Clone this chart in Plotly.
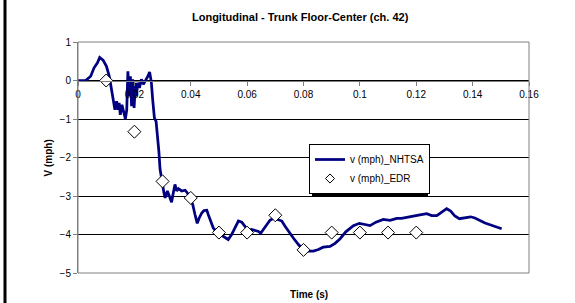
import plotly.graph_objects as go

# ---- data ----
t_nhtsa = [0, 0.0027, 0.0045, 0.0057, 0.0069, 0.0077, 0.0089, 0.0101, 0.0111, 0.0119,
           0.0125, 0.0131, 0.0137, 0.0142, 0.0146, 0.0150, 0.0156, 0.0162, 0.0168, 0.0173,
           0.0177, 0.0182, 0.0186, 0.0190, 0.0194, 0.0199, 0.0204, 0.0207, 0.0212, 0.0218,
           0.0225, 0.0232, 0.0239, 0.0248, 0.0254, 0.0260, 0.0265, 0.0271, 0.0277, 0.0283,
           0.0287, 0.0291, 0.0297, 0.0305, 0.0309, 0.0317, 0.0324, 0.0332, 0.0338, 0.0344,
           0.0350, 0.0356, 0.0368, 0.0380, 0.0388, 0.0397, 0.0407, 0.0415, 0.0423, 0.0430,
           0.0439, 0.0447, 0.0457, 0.0462, 0.0471, 0.0480, 0.0492, 0.0504, 0.0521, 0.0533,
           0.0545, 0.0557, 0.0569, 0.0581, 0.0592, 0.0604, 0.0616, 0.0628, 0.0640, 0.0648,
           0.0658, 0.0670, 0.0681, 0.0695, 0.0711, 0.0723, 0.0734, 0.0750, 0.0764, 0.0782,
           0.0799, 0.0817, 0.0835, 0.0853, 0.0870, 0.0894, 0.0912, 0.0930, 0.0950, 0.0977,
           0.0998, 0.1018, 0.1036, 0.1057, 0.1083, 0.1107, 0.1131, 0.1148, 0.1166, 0.1190,
           0.1213, 0.1237, 0.1255, 0.1273, 0.1290, 0.1308, 0.1322, 0.1337, 0.1353, 0.1373,
           0.1393, 0.1408, 0.1426, 0.1444, 0.1467, 0.1485, 0.1503]
v_nhtsa = [0, 0, 0.11, 0.33, 0.46, 0.60, 0.53, 0.37, 0.11, -0.23,
           -0.50, -0.76, -0.54, -0.76, -0.58, -0.89, -0.63, -0.80, -1.00, -0.76,
           0.24, -0.41, 0.11, -0.67, 0.03, -0.71, -0.06, -0.41, -0.06, -0.19,
           0.03, -0.10, -0.02, 0.11, 0.22, -0.03, -0.50, -0.97, -1.06, -1.45,
           -1.85, -2.30, -2.62, -2.92, -3.05, -2.87, -3.00, -3.16, -2.92, -2.70,
           -2.87, -2.81, -2.87, -2.85, -2.92, -3.05, -3.22, -3.48, -3.71, -3.57,
           -3.44, -3.38, -3.37, -3.48, -3.65, -3.83, -3.94, -4.00, -4.09, -4.13,
           -4.00, -3.83, -3.65, -3.68, -3.78, -3.90, -3.87, -3.90, -3.92, -3.97,
           -3.87, -3.74, -3.63, -3.57, -3.61, -3.65, -3.78, -3.96, -4.09, -4.26,
           -4.39, -4.43, -4.43, -4.39, -4.33, -4.31, -4.23, -4.11, -3.93, -3.77,
           -3.71, -3.74, -3.77, -3.68, -3.61, -3.63, -3.58, -3.58, -3.55, -3.51,
           -3.49, -3.46, -3.51, -3.51, -3.42, -3.33, -3.39, -3.52, -3.59, -3.57,
           -3.54, -3.57, -3.64, -3.70, -3.76, -3.80, -3.85]

t_edr = [0.01, 0.02, 0.03, 0.04, 0.05, 0.06, 0.07, 0.08, 0.09, 0.10, 0.11, 0.12]
v_edr = [0.0, -1.33, -2.62, -3.05, -3.95, -3.95, -3.50, -4.40, -3.95, -3.95, -3.95, -3.95]

x_ticks = [0, 0.02, 0.04, 0.06, 0.08, 0.1, 0.12, 0.14, 0.16]
x_tick_labels = ["0", "0.02", "0.04", "0.06", "0.08", "0.1", "0.12", "0.14", "0.16"]
y_ticks = [1, 0, -1, -2, -3, -4, -5]

FONT = "Arial, 'Liberation Sans', sans-serif"
NAVY = "#000080"
GRAY = "#808080"

fig = go.Figure()
fig.add_trace(go.Scatter(x=t_nhtsa, y=v_nhtsa, mode="lines", name="v (mph)_NHTSA",
                         line=dict(color=NAVY, width=2.75)))
fig.add_trace(go.Scatter(x=t_edr, y=v_edr, mode="markers", name="v (mph)_EDR",
                         showlegend=False,
                         marker=dict(symbol="diamond", size=10, color="white",
                                     line=dict(color="black", width=1))))
# legend-only entry with the smaller legend glyph
fig.add_trace(go.Scatter(x=[None], y=[None], mode="markers", name="v (mph)_EDR",
                         marker=dict(symbol="diamond", size=7, color="white",
                                     line=dict(color="black", width=1))))

y_min, y_max = -5, 1
zero_pos = (0 - y_min) / (y_max - y_min)

L, T = 78, 42          # plot area origin (px)
PW, PH = 451, 231      # plot area size (px)
leg_x0, leg_y0 = 309, 144
leg_w, leg_h = 116, 49  # approximate rendered legend size (px)


def px_x(x):
    return (x - L) / PW


def px_y(y):
    return (T + PH - y) / PH


fig.update_layout(
    width=575, height=303,
    margin=dict(l=L, r=575 - L - PW, t=T, b=303 - T - PH, autoexpand=False),
    paper_bgcolor="white", plot_bgcolor="white",
    font=dict(family=FONT, size=10, color="black"),
    title=dict(text="<b>Longitudinal - Trunk Floor-Center (ch. 42)</b>",
               font=dict(size=11, family=FONT), x=0.522, xanchor="center",
               y=1 - 17 / 303, yanchor="middle"),
    xaxis=dict(range=[0, 0.16], tickvals=x_ticks, ticktext=x_tick_labels,
               showgrid=False, zeroline=False, showline=True, linecolor=GRAY, linewidth=1,
               ticks="outside", ticklen=4, tickcolor=GRAY, automargin=False,
               anchor="free", position=zero_pos,
               tickfont=dict(size=10, family=FONT)),
    yaxis=dict(range=[y_min, y_max], tickvals=y_ticks, showgrid=True, gridcolor="black",
               gridwidth=1, zeroline=False, showline=True, linecolor=GRAY, linewidth=1,
               ticks="outside", ticklen=4, tickcolor=GRAY, automargin=False,
               tickfont=dict(size=10, family=FONT)),
    legend=dict(x=px_x(leg_x0), y=px_y(leg_y0), xanchor="left", yanchor="top",
                bgcolor="white", bordercolor="black", borderwidth=1,
                font=dict(size=10, family=FONT), itemwidth=30,
                tracegroupgap=0),
    showlegend=True,
    annotations=[
        dict(text="<b>Time (s)</b>", xref="paper", yref="paper",
             x=px_x(309), y=px_y(294), xanchor="center", yanchor="middle",
             showarrow=False, font=dict(size=10, family=FONT)),
        dict(text="<b>V (mph)</b>", xref="paper", yref="paper", textangle=-90,
             x=px_x(47.5), y=px_y(158), xanchor="center", yanchor="middle",
             showarrow=False, font=dict(size=10, family=FONT)),
    ],
    shapes=[
        dict(type="rect", xref="x domain", yref="y domain", x0=0, x1=1, y0=0, y1=1,
             line=dict(color=GRAY, width=1), layer="above"),
        dict(type="line", xref="paper", yref="paper", x0=px_x(5), x1=px_x(5),
             y0=px_y(303), y1=px_y(0), line=dict(color="black", width=3)),
        # legend drop shadow
        dict(type="rect", xref="paper", yref="paper",
             x0=px_x(leg_x0 + 3), x1=px_x(leg_x0 + leg_w + 3),
             y0=px_y(leg_y0 + leg_h + 3), y1=px_y(leg_y0 + 3),
             fillcolor="black", line=dict(width=0), layer="above"),
    ],
)

fig.write_html("out.html", config={"displayModeBar": False},
               post_script="document.body.style.margin='0px';")
